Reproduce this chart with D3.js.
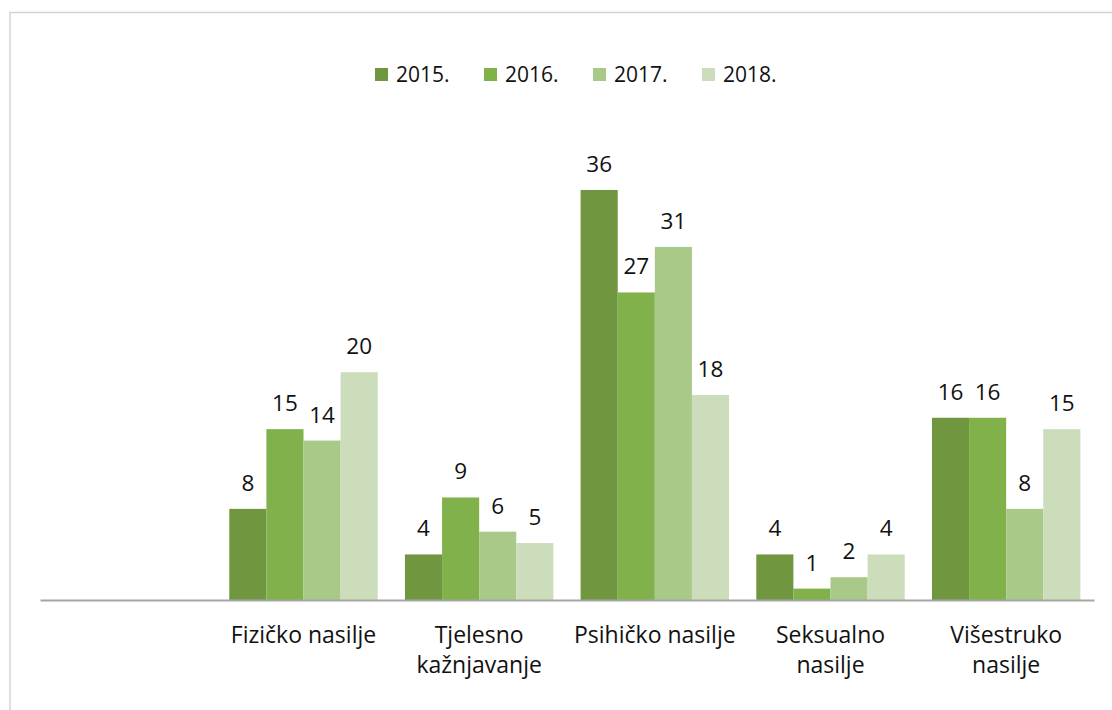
<!DOCTYPE html>
<html><head><meta charset="utf-8">
<script src="https://cdn.jsdelivr.net/npm/d3@7"></script>
<style>
html,body{margin:0;padding:0;background:#fff;}
text{font-family:"Open Sans",sans-serif;fill:#111;}
</style></head>
<body><svg id="c" width="1112" height="710"></svg>
<script>
const categories = ["", "Fizičko nasilje", "Tjelesno kažnjavanje", "Psihičko nasilje", "Seksualno nasilje", "Višestruko nasilje"];
const categoryLines = [[], ["Fizičko nasilje"], ["Tjelesno", "kažnjavanje"], ["Psihičko nasilje"], ["Seksualno", "nasilje"], ["Višestruko", "nasilje"]];
const years = ["2015.", "2016.", "2017.", "2018."];
const v2015 = [null, 8, 4, 36, 4, 16];
const v2016 = [null, 15, 9, 27, 1, 16];
const v2017 = [null, 14, 6, 31, 2, 8];
const v2018 = [null, 20, 5, 18, 4, 15];
const series = [v2015, v2016, v2017, v2018];
const colors = ["#70963f", "#80b14a", "#a9c988", "#cbddbb"];

const svg = d3.select("#c");
svg.append("rect").attr("x", 10).attr("y", 12.5).attr("width", 1120).attr("height", 720)
  .attr("fill", "none").attr("stroke", "#d4d4d4").attr("stroke-width", 1.5);

const x0 = d3.scaleBand().domain(categories).range([40, 1094]).paddingInner(0).paddingOuter(0);
const x1 = d3.scaleBand().domain(years).range([0, 148.4]);
const groupOffset = (x0.bandwidth() - 148.4) / 2;
const y = d3.scaleLinear().domain([0, 40]).range([600, 600 - 40 * 11.39]);

const g = svg.append("g");
categories.forEach((c, i) => {
  series.forEach((s, k) => {
    const v = s[i];
    if (v == null) return;
    const bx = x0(c) + groupOffset + x1(years[k]);
    g.append("rect").attr("x", bx).attr("y", y(v)).attr("width", x1.bandwidth()).attr("height", y(0) - y(v))
      .attr("fill", colors[k]);
    g.append("text").attr("x", bx + x1.bandwidth() / 2).attr("y", y(v) - 18)
      .attr("text-anchor", "middle").attr("font-size", 22.5).text(v);
  });
});

// axis
const axis = d3.axisBottom(x0).tickSize(0).tickFormat("");
const ax = svg.append("g").attr("transform", "translate(0,600)").call(axis);
ax.select(".domain").attr("stroke", "#a6a6a6").attr("stroke-width", 2);

categories.forEach((c, i) => {
  const lines = categoryLines[i];
  const t = svg.append("text").attr("text-anchor", "middle").attr("font-size", 23)
    .attr("x", x0(c) + x0.bandwidth() / 2).attr("y", 643);
  lines.forEach((l, j) => t.append("tspan").attr("x", x0(c) + x0.bandwidth() / 2).attr("dy", j === 0 ? 0 : 30).text(l));
});

// legend
const leg = svg.append("g");
const legX = d3.scalePoint().domain(years).range([375, 702]);
years.forEach((yr, k) => {
  leg.append("rect").attr("x", legX(yr)).attr("y", 68).attr("width", 13).attr("height", 13).attr("fill", colors[k]);
  leg.append("text").attr("x", legX(yr) + 21).attr("y", 82).attr("font-size", 21).text(yr);
});
</script></body></html>
